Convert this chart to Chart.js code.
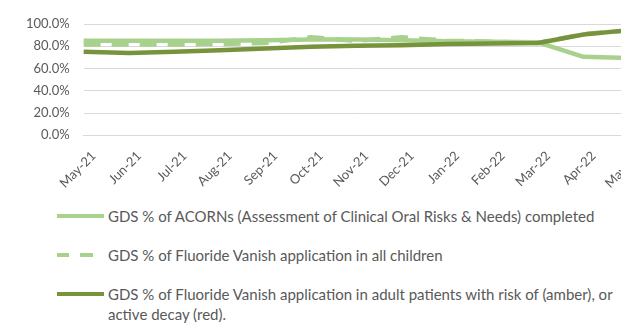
<!DOCTYPE html>
<html>
<head>
<meta charset="utf-8">
<script src="https://cdn.jsdelivr.net/npm/chart.js@4.4.0/dist/chart.umd.min.js"></script>
<style>
  html, body { margin: 0; padding: 0; background: #fff; overflow: hidden; }
  #wrap { position: relative; width: 621px; height: 331px; overflow: hidden; }
  #chart_box { position: absolute; left: 0; top: 0; width: 645px; height: 196px; }
  #legend { position: absolute; left: 57px; top: 206px; font-family: Lato, "Open Sans", sans-serif; font-size: 15px; color: #595959; }
  .item { position: absolute; left: 0; white-space: nowrap; }
  .swatch { position: absolute; left: 0; width: 47px; height: 0; }
  .text { position: absolute; left: 51px; top: 0; width: 525px; white-space: normal; line-height: 20px; }
</style>
</head>
<body>
<div id="wrap">
  <div id="chart_box"><canvas id="gds_chart"></canvas></div>
  <div id="legend"></div>
</div>
<script>
// months on the x axis
const months = ["May-21", "Jun-21", "Jul-21", "Aug-21", "Sep-21", "Oct-21", "Nov-21",
  "Dec-21", "Jan-22", "Feb-22", "Mar-22", "Apr-22", "May-22"];

// GDS % of ACORNs completed
const acorns_completed = [85, 85, 85, 85, 85.5, 86, 86, 85.5, 84.5, 84, 83.5, 70.5, 69.5];
// GDS % of Fluoride Vanish application in all children
const fv_children = [81.5, 81.5, 81.5, 82, 83, 88, 85, 88, 85, 84, 83, 91, 94];
// GDS % of Fluoride Vanish application in adults with risk / active decay
const fv_adults = [75, 74, 75, 76.5, 78, 79.5, 80.5, 81, 82, 82.5, 83, 90.5, 94.5];

// y axis ticks
const y_ticks = [0, 20, 40, 60, 80, 100];

const light_green = "#A9D18E";
const dark_green = "#77933C";

const datasets = [
  {
    label: "GDS % of ACORNs (Assessment of Clinical Oral Risks & Needs)  completed",
    data: acorns_completed,
    borderColor: light_green,
    borderWidth: 4.5,
    order: 3,
  },
  {
    label: "GDS % of Fluoride Vanish application in all children",
    data: fv_children,
    borderColor: light_green,
    borderWidth: 4.5,
    borderDash: [17, 11],
    order: 2,
  },
  {
    label: "GDS % of Fluoride Vanish application in adult patients with risk of (amber), or active decay (red).",
    data: fv_adults,
    borderColor: dark_green,
    borderWidth: 4.5,
    order: 1,
  },
];

const ctx = document.getElementById("gds_chart").getContext("2d");

const my_chart = new Chart(ctx, {
  type: "line",
  data: { labels: months, datasets: datasets },
  options: {
    responsive: true,
    maintainAspectRatio: false,
    animation: false,
    layout: { padding: { left: 12, top: 24, right: 14, bottom: 0 } },
    elements: {
      point: { radius: 0 },
      line: { tension: 0, fill: false, borderJoinStyle: "round" },
    },
    plugins: { legend: { display: false }, tooltip: { enabled: false } },
    scales: {
      x: {
        offset: false,
        grid: { display: false },
        border: { color: "#D9D9D9" },
        ticks: {
          color: "#595959",
          font: { family: "Lato", size: 13 },
          minRotation: 45,
          maxRotation: 45,
          autoSkip: false,
          padding: 5,
          labelOffset: 10,
        },
      },
      y: {
        min: 0,
        max: 100,
        afterBuildTicks: (axis) => {
          axis.ticks = y_ticks.map((v) => ({ value: v }));
        },
        grid: { color: "#D9D9D9", drawTicks: false },
        border: { display: false },
        ticks: {
          color: "#595959",
          font: { family: "Lato", size: 13 },
          padding: 14,
          callback: (v) => v.toFixed(1) + "%",
        },
      },
    },
  },
});

// legend list below the chart
const legend_el = document.getElementById("legend");
const legend_tops = [0, 39, 78];
datasets.forEach((ds, i) => {
  const item = document.createElement("div");
  item.className = "item";
  item.style.top = legend_tops[i] + "px";

  const swatch = document.createElement("div");
  swatch.className = "swatch";
  swatch.style.top = "8px";
  swatch.style.height = "4px";
  if (ds.borderDash) {
    swatch.style.background = "linear-gradient(to right, " + ds.borderColor + " 0 12px, transparent 12px 23px, " + ds.borderColor + " 23px 36px, transparent 36px)";
  } else {
    swatch.style.background = ds.borderColor;
  }

  const text = document.createElement("div");
  text.className = "text";
  text.textContent = ds.label;

  item.appendChild(swatch);
  item.appendChild(text);
  legend_el.appendChild(item);
});
</script>
</body>
</html>
